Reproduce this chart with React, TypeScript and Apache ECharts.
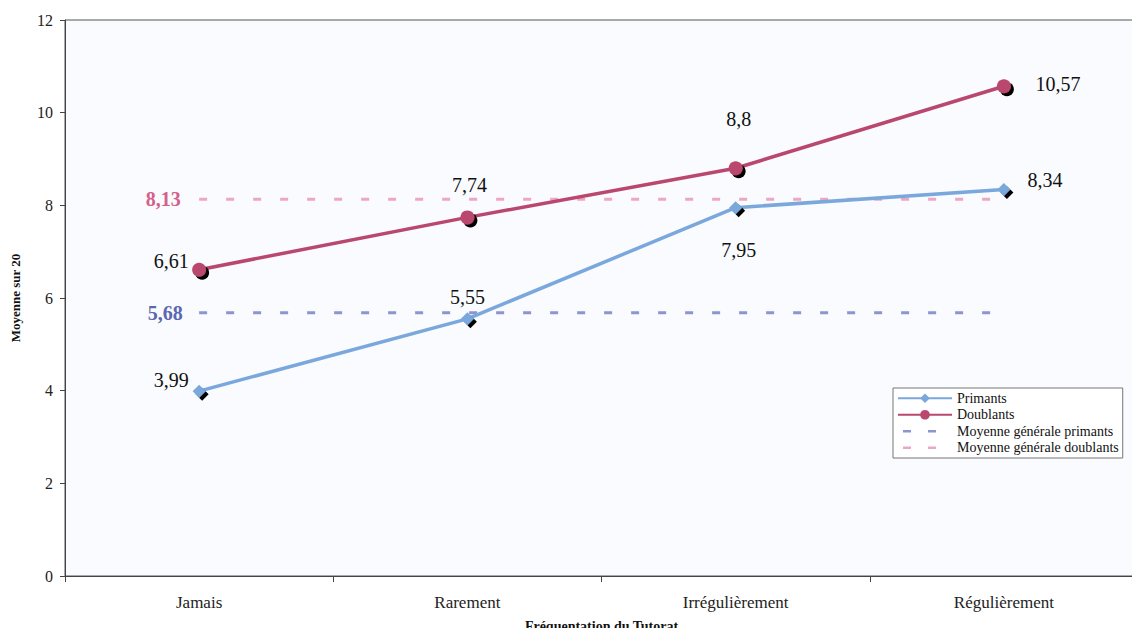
import React, { useEffect, useRef } from "react";
import * as echarts from "echarts";

const categories = ["Jamais", "Rarement", "Irrégulièrement", "Régulièrement"];
const primants = [3.99, 5.55, 7.95, 8.34];
const doublants = [6.61, 7.74, 8.8, 10.57];
const moyennePrimants = 5.68;
const moyenneDoublants = 8.13;
const yTicks = { min: 0, max: 12, interval: 2 };

const primantsLabelOffsets = [[-28, -11], [0, -22], [3, 42], [41, -10]];
const doublantsLabelOffsets = [[-28, -9], [2, -32], [3, -49], [54, -2]];

const FONT = "'Liberation Serif', 'Times New Roman', 'DejaVu Serif', serif";
const fmt = (v: number) => String(v).replace(".", ",");
const DASH_ICON = "path://M0,0L0,0M5,4.75h8v2.5h-8zM30,4.75h8v2.5h-8zM54,12L54,12";

export default function App() {
  const ref = useRef<HTMLDivElement>(null);
  useEffect(() => {
    if (!ref.current) return;
    const chart = echarts.init(ref.current, null, { renderer: "svg" });
    const lineData = (vals: number[], offs: number[][]) =>
      vals.map((v, i) => ({
        value: v,
        label: {
          show: true,
          position: "inside",
          offset: offs[i],
          formatter: () => fmt(v),
          color: "#111",
          fontSize: 20,
          fontFamily: FONT,
        },
      }));
    const avgMark = (v: number, color: string, off: number[]) => ({
      silent: true,
      symbol: "circle",
      symbolSize: 0,
      data: [
        {
          coord: [0, v],
          label: {
            show: true,
            position: "inside",
            offset: off,
            formatter: () => fmt(v),
            color,
            fontSize: 20,
            fontWeight: "bold",
            fontFamily: FONT,
          },
        },
      ],
    });
    chart.setOption({
      animation: false,
      textStyle: { fontFamily: FONT },
      grid: {
        left: 65,
        right: 2,
        top: 20,
        bottom: 60,
        outerBoundsMode: "none",
        containLabel: false,
        show: true,
        borderColor: "#555",
        borderWidth: 1,
        backgroundColor: "#f9fbfe",
      },
      legend: {
        orient: "vertical",
        left: 893,
        top: 388,
        padding: [3, 4, 3, 4],
        itemGap: 2,
        itemWidth: 54,
        itemHeight: 12,
        backgroundColor: "#fff",
        borderColor: "#777",
        borderWidth: 1,
        textStyle: {
          fontFamily: FONT,
          fontSize: 14,
          lineHeight: 14.5,
          color: "#111",
        },
        data: [
          { name: "Primants" },
          { name: "Doublants" },
          { name: "Moyenne générale primants", icon: DASH_ICON, itemStyle: { color: "#8d94cf" } },
          { name: "Moyenne générale doublants", icon: DASH_ICON, itemStyle: { color: "#eea7c2" } },
        ],
      },
      xAxis: {
        type: "category",
        data: categories,
        boundaryGap: true,
        name: "Fréquentation du Tutorat",
        nameLocation: "middle",
        nameGap: 43,
        nameTextStyle: { fontFamily: FONT, fontSize: 14, fontWeight: "bold", color: "#111" },
        axisLine: { lineStyle: { color: "#444", width: 1 } },
        axisTick: { show: true, length: 6, lineStyle: { color: "#444" } },
        axisLabel: { fontFamily: FONT, fontSize: 17, color: "#222", margin: 18 },
      },
      yAxis: {
        type: "value",
        min: yTicks.min,
        max: yTicks.max,
        interval: yTicks.interval,
        name: "Moyenne sur 20",
        nameLocation: "middle",
        nameGap: 43,
        nameTextStyle: { fontFamily: FONT, fontSize: 13, fontWeight: "bold", color: "#111" },
        axisLine: { show: true, lineStyle: { color: "#444", width: 1 } },
        axisTick: { show: true, length: 5, lineStyle: { color: "#444" } },
        splitLine: { show: false },
        axisLabel: { fontFamily: FONT, fontSize: 16, color: "#222", margin: 12 },
      },
      series: [
        {
          name: "Primants",
          type: "line",
          data: lineData(primants, primantsLabelOffsets),
          symbol: "diamond",
          symbolSize: 13,
          color: "#7aa8dc",
          lineStyle: { color: "#7aa8dc", width: 3.5 },
          itemStyle: {
            color: "#7aa8dc",
            shadowColor: "#000",
            shadowBlur: 0,
            shadowOffsetX: 3,
            shadowOffsetY: 3,
          },
          z: 3,
        },
        {
          name: "Doublants",
          type: "line",
          data: lineData(doublants, doublantsLabelOffsets),
          symbol: "circle",
          symbolSize: 14,
          color: "#b9476e",
          lineStyle: { color: "#b9476e", width: 3.5 },
          itemStyle: {
            color: "#b9476e",
            shadowColor: "#000",
            shadowBlur: 0,
            shadowOffsetX: 3,
            shadowOffsetY: 3,
          },
          z: 3,
        },
        {
          name: "Moyenne générale primants",
          type: "line",
          data: categories.map(() => moyennePrimants),
          symbol: "none",
          color: "#8d94cf",
          lineStyle: { color: "#8d94cf", width: 3, type: [8, 19] },
          markPoint: avgMark(moyennePrimants, "#5b68b0", [-34, 0]),
          z: 1,
        },
        {
          name: "Moyenne générale doublants",
          type: "line",
          data: categories.map(() => moyenneDoublants),
          symbol: "none",
          color: "#eea7c2",
          lineStyle: { color: "#eea7c2", width: 3, type: [8, 19] },
          markPoint: avgMark(moyenneDoublants, "#d2628c", [-36, 0]),
          z: 1,
        },
      ],
    });
    return () => chart.dispose();
  }, []);
  return <div ref={ref} style={{ width: 1140, height: 636, margin: -8 }} />;
}
